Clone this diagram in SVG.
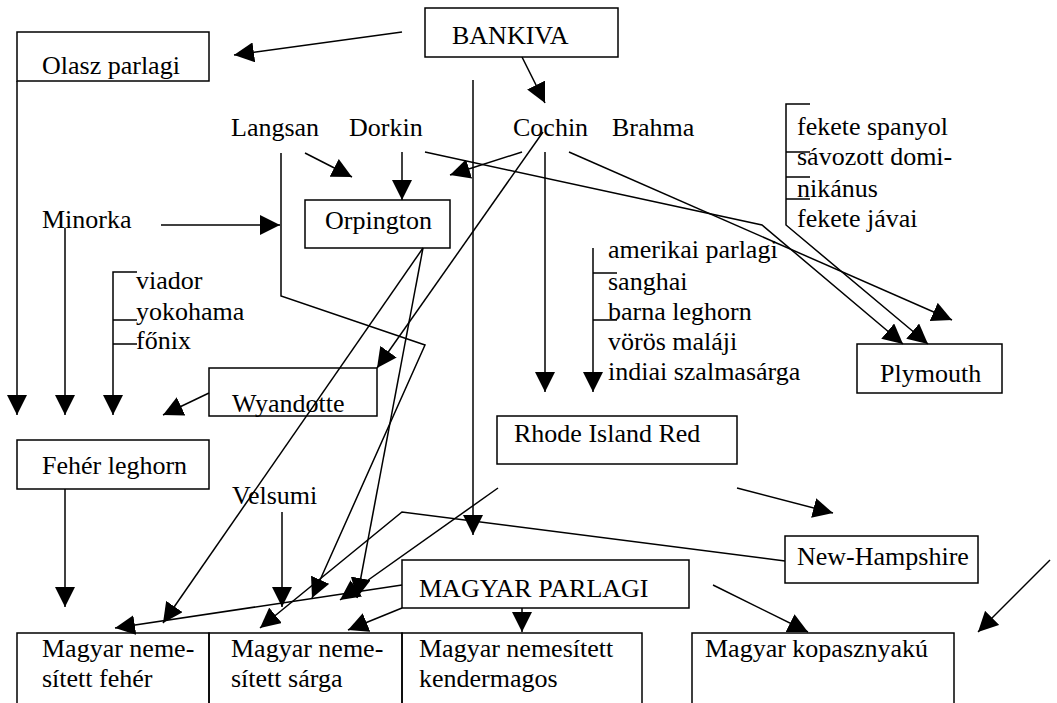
<svg xmlns="http://www.w3.org/2000/svg" width="1057" height="703" viewBox="0 0 1057 703">
<style>
.box{fill:none;stroke:#000;stroke-width:1.5}
.t{font-family:"Liberation Serif","Times New Roman",serif;font-size:26px;fill:#000}
.c{fill:none;stroke:#000;stroke-width:1.5}
.a{marker-end:url(#ah)}
</style>
<defs>
<marker id="ah" viewBox="0 0 20 20" refX="20" refY="10" markerWidth="20" markerHeight="20" markerUnits="userSpaceOnUse" orient="auto">
<path d="M0,0 L20,10 L0,20 z" fill="#000"/>
</marker>
</defs>
<rect width="1057" height="703" fill="#fff"/>
<g id="connectors">
<path class="c a" d="M402,32 L234,55"/>
<path class="c a" d="M522,57 L545,103"/>
<path class="c a" d="M473,80 L473,535"/>
<path class="c a" d="M17,81 L17,415"/>
<path class="c a" d="M65,228 L65,415"/>
<path class="c a" d="M137,272 L113,272 L113,415"/>
<path class="c" d="M113,320 L137,320 M113,344 L137,344"/>
<path class="c a" d="M209,393 L163,415"/>
<path class="c a" d="M161,225 L280,225"/>
<path class="c a" d="M281,153 L281,296 L425,345 L312,598"/>
<path class="c a" d="M305,153 L352,177"/>
<path class="c a" d="M402,152 L402,200"/>
<path class="c a" d="M425,152 L762,225 L903,344"/>
<path class="c a" d="M522,152 L450,175"/>
<path class="c a" d="M543,132 L377,368"/>
<path class="c a" d="M545,152 L545,392"/>
<path class="c a" d="M569,152 L952,320"/>
<path class="c a" d="M810,104 L786,104 L786,225 L928,344"/>
<path class="c" d="M786,152 L810,152 M786,177 L810,177 M786,199 L810,199"/>
<path class="c a" d="M593,248 L593,392"/>
<path class="c" d="M593,273 L617,273 M593,320 L617,320"/>
<path class="c a" d="M423,248 L163,623"/>
<path class="c a" d="M423,248 L357,598"/>
<path class="c a" d="M65,489 L65,607"/>
<path class="c a" d="M282,512 L282,607"/>
<path class="c a" d="M498,488 L340,600"/>
<path class="c a" d="M737,488 L833,513"/>
<path class="c a" d="M785,561 L402,512 L260,628"/>
<path class="c a" d="M402,585 L115,628"/>
<path class="c a" d="M402,608 L348,630"/>
<path class="c a" d="M522,608 L522,632"/>
<path class="c a" d="M713,585 L808,632"/>
<path class="c a" d="M1050,560 L978,632"/>
</g>
<g id="bankiva"><rect class="box" x="425" y="8" width="193" height="49"/><text class="t" x="452" y="44">BANKIVA</text></g>
<g id="olasz"><rect class="box" x="17" y="32" width="192" height="49"/><text class="t" x="42" y="74">Olasz parlagi</text></g>
<g id="langsan"><text class="t" x="231" y="136">Langsan</text></g>
<g id="dorkin"><text class="t" x="349" y="136">Dorkin</text></g>
<g id="cochin"><text class="t" x="513" y="136">Cochin</text></g>
<g id="brahma"><text class="t" x="612" y="136">Brahma</text></g>
<g id="fekete"><text class="t" x="797" y="135">fekete spanyol</text><text class="t" x="797" y="165">sávozott domi-</text><text class="t" x="797" y="197">nikánus</text><text class="t" x="797" y="227">fekete jávai</text></g>
<g id="minorka"><text class="t" x="42" y="228">Minorka</text></g>
<g id="orpington"><rect class="box" x="305" y="200" width="145" height="48"/><text class="t" x="325" y="229">Orpington</text></g>
<g id="amerikai"><text class="t" x="608" y="258">amerikai parlagi</text><text class="t" x="608" y="290">sanghai</text><text class="t" x="608" y="320">barna leghorn</text><text class="t" x="608" y="350">vörös maláji</text><text class="t" x="608" y="380">indiai szalmasárga</text></g>
<g id="viador"><text class="t" x="136" y="289">viador</text><text class="t" x="136" y="320">yokohama</text><text class="t" x="136" y="349">főnix</text></g>
<g id="plymouth"><rect class="box" x="857" y="344" width="145" height="49"/><text class="t" x="880" y="382">Plymouth</text></g>
<g id="wyandotte"><rect class="box" x="209" y="368" width="168" height="48"/><text class="t" x="232" y="412">Wyandotte</text></g>
<g id="rir"><rect class="box" x="497" y="416" width="240" height="48"/><text class="t" x="514" y="442">Rhode Island Red</text></g>
<g id="feher-leghorn"><rect class="box" x="17" y="440" width="192" height="49"/><text class="t" x="42" y="474">Fehér leghorn</text></g>
<g id="velsumi"><text class="t" x="232" y="504">Velsumi</text></g>
<g id="new-hampshire"><rect class="box" x="785" y="536" width="193" height="47"/><text class="t" x="797" y="565">New-Hampshire</text></g>
<g id="magyar-parlagi"><rect class="box" x="402" y="560" width="287" height="48"/><text class="t" x="419" y="597">MAGYAR PARLAGI</text></g>
<g id="m-feher"><rect class="box" x="17" y="633" width="192" height="80"/><text class="t" x="42" y="657">Magyar neme-</text><text class="t" x="42" y="687">sített fehér</text></g>
<g id="m-sarga"><rect class="box" x="209" y="633" width="193" height="80"/><text class="t" x="231" y="657">Magyar neme-</text><text class="t" x="231" y="687">sített sárga</text></g>
<g id="m-kender"><rect class="box" x="402" y="633" width="240" height="80"/><text class="t" x="419" y="657">Magyar nemesített</text><text class="t" x="419" y="687">kendermagos</text></g>
<g id="m-kopasz"><rect class="box" x="692" y="633" width="262" height="80"/><text class="t" x="705" y="657">Magyar kopasznyakú</text></g>
</svg>
